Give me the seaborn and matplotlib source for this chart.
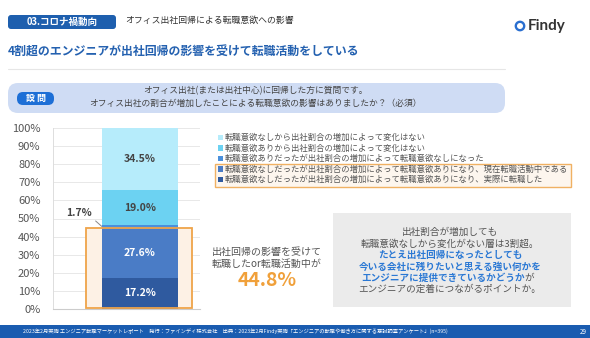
import matplotlib
matplotlib.use("Agg")
import matplotlib.pyplot as plt
import seaborn as sns
from matplotlib.patches import FancyBboxPatch, Rectangle, Circle

# ---------------- data ----------------
category = "回答"
# stacking order: bottom -> top
segment_labels = [
    "転職意欲なしだったが出社割合の増加によって転職意欲ありになり、実際に転職した",
    "転職意欲なしだったが出社割合の増加によって転職意欲ありになり、現在転職活動中である",
    "転職意欲ありだったが出社割合の増加によって転職意欲なしになった",
    "転職意欲ありから出社割合の増加によって変化はない",
    "転職意欲なしから出社割合の増加によって変化はない",
]
segment_values = [17.2, 27.6, 1.7, 19.0, 34.5]
segment_colors = ["#2f5a9f", "#4a7cc6", "#4a90dc", "#6cd2f2", "#b6ecfb"]
label_colors = ["white", "white", "#444444", "#444444", "#444444"]
ytick_values = [0, 10, 20, 30, 40, 50, 60, 70, 80, 90, 100]
ytick_labels = [f"{v}%" for v in ytick_values]
highlight_count = 2  # bottom two segments are highlighted

header_badge = "03.コロナ禍動向"
header_sub = "オフィス出社回帰による転職意欲への影響"
title = "4割超のエンジニアが出社回帰の影響を受けて転職活動をしている"
question_badge = "設 問"
question_lines = ["オフィス出社(または出社中心)に回帰した方に質問です。",
                  "オフィス出社の割合が増加したことによる転職意欲の影響はありましたか？（必須）"]
note_lines = ["出社回帰の影響を受けて", "転職したor転職活動中が"]
box_lines = [("出社割合が増加しても", "#555555", "normal"),
             ("転職意欲なしから変化がない層は3割超。", "#555555", "normal"),
             ("たとえ出社回帰になったとしても", "#2a78d4", "bold"),
             ("今いる会社に残りたいと思える強い何かを", "#2a78d4", "bold"),
             ("エンジニアに提供できているかどうか", "#2a78d4", "bold"),
             ("エンジニアの定着につながるポイントか。", "#555555", "normal")]
box_line5_tail = "が"
footer = ("2023年2月実施 エンジニア転職マーケットレポート　発行：ファインディ株式会社　"
          "出典：2023年2月Findy実施「エンジニアの転職や働き方に関する意識調査アンケート」(n=395)")
page_no = "29"

# ---------------- figure ----------------
sns.set_theme(style="white")
plt.rcParams['font.family'] = ['Noto Sans CJK JP', 'DejaVu Sans']

W, H = 590, 338
fig = plt.figure(figsize=(W / 100, H / 100), dpi=100)
fig.patch.set_facecolor("white")
bg = fig.add_axes([0, 0, 1, 1])
bg.set_xlim(0, W)
bg.set_ylim(H, 0)
bg.axis("off")
bg.set_zorder(0)

ax = fig.add_axes([53 / W, (H - 309) / H, 147 / W, 181 / H])
ax.set_zorder(2)
ax.patch.set_alpha(0)

bar_width = 0.517
bottom = 0.0
for lab, val, col in zip(segment_labels, segment_values, segment_colors):
    sns.barplot(x=[category], y=[val], bottom=bottom, color=col, width=bar_width,
                saturation=1, ax=ax, zorder=3, linewidth=0)
    bottom += val

ax.set_xlim(-0.59, 0.41)
ax.set_ylim(0, 100)
ax.set_yticks(ytick_values)
ax.set_yticklabels(ytick_labels)
ax.set_xticks([])
ax.set_xlabel("")
ax.set_ylabel("")
ax.tick_params(axis="y", length=0, pad=9, labelsize=8, labelcolor="#555555")
ax.yaxis.grid(True, color="#e4e4e4", lw=0.6)
ax.set_axisbelow(True)
for s in ["top", "right"]:
    ax.spines[s].set_visible(False)
ax.spines["left"].set_color("#dddddd")
ax.spines["left"].set_linewidth(0.7)
ax.spines["bottom"].set_color("#cccccc")
ax.spines["bottom"].set_linewidth(0.8)

# segment labels
cum = 0.0
for i, (val, lc) in enumerate(zip(segment_values, label_colors)):
    mid = cum + val / 2
    if val < 5:
        ax.annotate(f"{val:.1f}%", xy=(-bar_width / 2, mid), xytext=(-0.41, 53),
                    ha="center", va="center", fontsize=7.5, fontweight="bold", color="#444444",
                    arrowprops=dict(arrowstyle="-", color="#888888", lw=0.7,
                                    shrinkA=0, shrinkB=0, relpos=(1, 0)), zorder=5)
    else:
        ax.text(0, mid, f"{val:.1f}%", ha="center", va="center", fontsize=7.5,
                fontweight="bold", color=lc, zorder=5)
    cum += val

# highlight box around bottom segments
hl_total = sum(segment_values[:highlight_count])
ax.add_patch(Rectangle((-0.366, 0.5), 0.722, hl_total - 0.5, facecolor="#fdf1e5",
                       edgecolor="none", zorder=1, clip_on=False))
ax.add_patch(Rectangle((-0.366, 0.5), 0.722, hl_total - 0.5, facecolor="none",
                       edgecolor="#efa449", lw=1.3, zorder=6, clip_on=False))

# ---------------- legend (top segment first) ----------------
bg.add_patch(Rectangle((215, 163.5), 356, 23, facecolor="#fdf6ee", edgecolor="#f0b163", lw=1))
for i, (lab, col) in enumerate(zip(segment_labels[::-1], segment_colors[::-1])):
    y = 137.5 + i * 10.5
    bg.add_patch(Rectangle((218, y - 2.7), 5.4, 5.4, facecolor=col, edgecolor="none"))
    bg.text(225, y, lab, fontsize=6, color="#555555", va="center", ha="left")

# ---------------- header ----------------
bg.add_patch(FancyBboxPatch((8, 15), 108, 14, boxstyle="round,pad=0,rounding_size=3",
                            facecolor="#1e5fae", edgecolor="none"))
bg.text(62, 22, header_badge, color="white", fontsize=6.8, fontweight="bold",
        ha="center", va="center")
bg.text(125, 20, header_sub, color="#333333", fontsize=6.4, ha="left", va="center")
bg.add_patch(Circle((520, 26), 4.2, facecolor="none", edgecolor="#2a6fd0", lw=1.7))
bg.text(528, 26, "Findy", color="#333333", fontsize=11, fontweight="bold",
        ha="left", va="center", family=["Lato", "DejaVu Sans"])

bg.text(8, 52, title, color="#2461b0", fontsize=8.6, fontweight="bold", ha="left", va="center")
bg.plot([8, 505], [68.5, 68.5], color="#e6e6e6", lw=0.8)

# question box
bg.add_patch(FancyBboxPatch((8, 83), 497, 30, boxstyle="round,pad=0,rounding_size=10",
                            facecolor="#cfdcf4", edgecolor="none"))
bg.add_patch(FancyBboxPatch((17, 92), 37, 13, boxstyle="round,pad=0,rounding_size=6",
                            facecolor="#1d6fd6", edgecolor="none"))
bg.text(35.5, 98.5, question_badge, color="white", fontsize=6.5, fontweight="bold",
        ha="center", va="center")
bg.text(255, 91, question_lines[0], color="#444444", fontsize=6.3, ha="center", va="center")
bg.text(255, 103, question_lines[1], color="#444444", fontsize=6.3, ha="center", va="center")

# left note
bg.text(267, 252, note_lines[0], color="#555555", fontsize=7.2, ha="center", va="center")
bg.text(267, 263.5, note_lines[1], color="#555555", fontsize=7.2, ha="center", va="center")
bg.text(267, 281, f"{hl_total:.1f}%", color="#f0a03a", fontsize=14, fontweight="bold",
        ha="center", va="center")

# gray box
bg.add_patch(Rectangle((333, 213), 238, 94, facecolor="#ebebeb", edgecolor="none"))
ys = [232, 243.5, 255, 266.5, 278, 289.5]
for (txt, col, wt), y in zip(box_lines, ys):
    if txt.endswith("かどうか"):
        t = bg.text(443, y, txt, color=col, fontsize=6.9, fontweight=wt, ha="center", va="center")
        bg.annotate(box_line5_tail, xy=(1, 0.5), xycoords=t, color="#555555", fontsize=6.9,
                    ha="left", va="center")
    else:
        bg.text(450, y, txt, color=col, fontsize=6.9, fontweight=wt, ha="center", va="center")

# footer
bg.add_patch(Rectangle((0, 325), W, 13, facecolor="#1a5cb0", edgecolor="none"))
bg.text(235, 331.5, footer, color="white", fontsize=3.8, ha="center", va="center")
bg.text(583, 331.5, page_no, color="white", fontsize=4.5, ha="center", va="center")

fig.savefig("out.png", dpi=100)
